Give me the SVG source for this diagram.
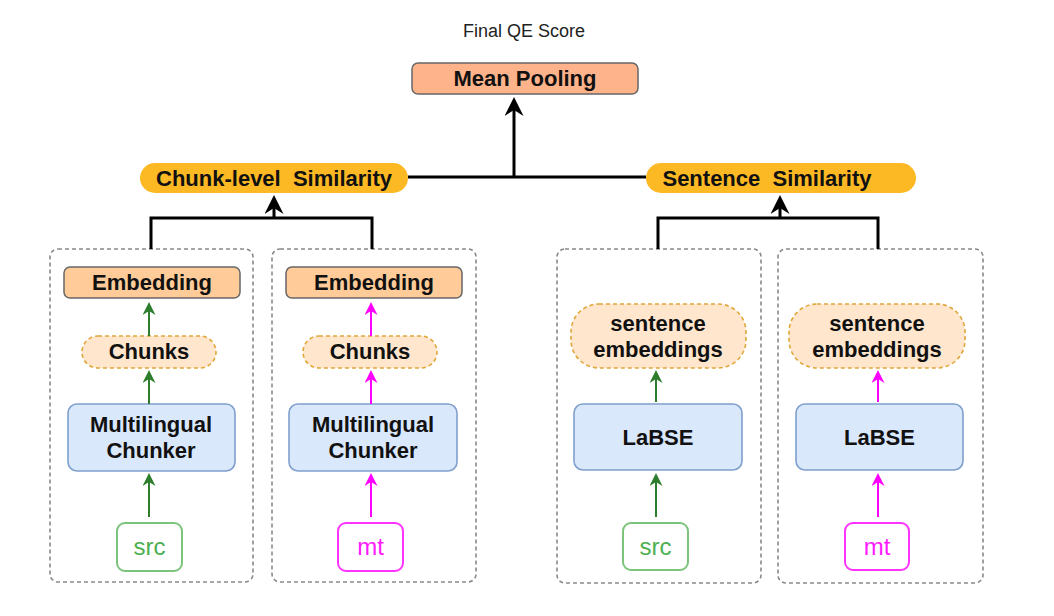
<svg xmlns="http://www.w3.org/2000/svg" width="1054" height="616" viewBox="0 0 1054 616">
<style>
  text { font-family: "Liberation Sans", Arial, sans-serif; text-anchor: middle; }
  .b { font-weight: bold; font-size: 22px; fill: #111; }
  .frame { fill: none; stroke: #8a8a8a; stroke-width: 1.6; stroke-dasharray: 4 3; }
  .emb { fill: #FFCC99; stroke: #666; stroke-width: 1.5; }
  .pill { fill: #FDB924; }
  .dpill { fill: #FFE6CC; stroke: #E0A73A; stroke-width: 1.6; stroke-dasharray: 4 3; }
  .blue { fill: #DAE8FC; stroke: #7F9FCC; stroke-width: 1.6; }
  .src { fill: #fff; stroke: #7CC47C; stroke-width: 2; }
  .mt { fill: #fff; stroke: #FF33FF; stroke-width: 2; }
  .srct { font-size: 24px; fill: #4CAF50; }
  .mtt { font-size: 24px; fill: #FF1AFF; }
  .k { fill: none; stroke: #000; stroke-width: 3; }
  .g { fill: none; stroke: #2D7D2D; stroke-width: 2; }
  .m { fill: none; stroke: #FF00FF; stroke-width: 2; }
</style>
<defs>
  <marker id="ak" markerUnits="userSpaceOnUse" markerWidth="20" markerHeight="20" refX="6" refY="9.5" orient="auto">
    <path d="M0,0 L19,9.5 L0,19 L6,9.5 Z" fill="#000"/>
  </marker>
  <marker id="ag" markerUnits="userSpaceOnUse" markerWidth="14" markerHeight="14" refX="4" refY="6.5" orient="auto">
    <path d="M0,0 L13,6.5 L0,13 L4,6.5 Z" fill="#2D7D2D"/>
  </marker>
  <marker id="am" markerUnits="userSpaceOnUse" markerWidth="14" markerHeight="14" refX="4" refY="6.5" orient="auto">
    <path d="M0,0 L13,6.5 L0,13 L4,6.5 Z" fill="#FF00FF"/>
  </marker>
</defs>
<rect width="1054" height="616" fill="#fff"/>

<g id="title">
  <text x="524" y="37" style="font-size:18px; fill:#222;">Final QE Score</text>
</g>

<g id="mean-pooling">
  <rect x="412" y="63" width="226" height="31" rx="6" fill="#FFB38A" stroke="#666" stroke-width="1.5"/>
  <text class="b" x="525" y="86">Mean Pooling</text>
</g>

<g id="chunk-similarity">
  <rect class="pill" x="140" y="163" width="268" height="30" rx="15"/>
  <text class="b" x="274" y="186" xml:space="preserve">Chunk-level  Similarity</text>
</g>

<g id="sentence-similarity">
  <rect class="pill" x="646" y="163" width="270" height="30" rx="15"/>
  <text class="b" x="767" y="186" xml:space="preserve">Sentence  Similarity</text>
</g>

<!-- frames -->
<g id="frame-chunk-src"><rect class="frame" x="50" y="249" width="203" height="333" rx="8"/></g>
<g id="frame-chunk-mt"><rect class="frame" x="272" y="249" width="204" height="333" rx="8"/></g>
<g id="frame-sent-src"><rect class="frame" x="557" y="249" width="204" height="334" rx="8"/></g>
<g id="frame-sent-mt"><rect class="frame" x="778" y="249" width="205" height="334" rx="8"/></g>

<!-- column 1 -->
<g id="embedding-src">
  <rect class="emb" x="64" y="267" width="176" height="31" rx="6"/>
  <text class="b" x="152" y="290">Embedding</text>
</g>
<g id="chunks-src">
  <rect class="dpill" x="82" y="336" width="134" height="32" rx="16"/>
  <text class="b" x="149" y="359">Chunks</text>
</g>
<g id="chunker-src">
  <rect class="blue" x="68" y="404" width="167" height="67" rx="9"/>
  <text class="b" x="151" y="432">Multilingual</text>
  <text class="b" x="151" y="458">Chunker</text>
</g>
<g id="src-1">
  <rect class="src" x="117" y="523" width="65" height="48" rx="8"/>
  <text class="srct" x="149.5" y="555">src</text>
</g>

<!-- column 2 -->
<g id="embedding-mt">
  <rect class="emb" x="286" y="267" width="176" height="31" rx="6"/>
  <text class="b" x="374" y="290">Embedding</text>
</g>
<g id="chunks-mt">
  <rect class="dpill" x="303" y="336" width="134" height="32" rx="16"/>
  <text class="b" x="370" y="359">Chunks</text>
</g>
<g id="chunker-mt">
  <rect class="blue" x="289" y="404" width="168" height="67" rx="9"/>
  <text class="b" x="373" y="432">Multilingual</text>
  <text class="b" x="373" y="458">Chunker</text>
</g>
<g id="mt-1">
  <rect class="mt" x="338" y="523" width="65" height="48" rx="8"/>
  <text class="mtt" x="370.5" y="555">mt</text>
</g>

<!-- column 3 -->
<g id="sentemb-src">
  <rect class="dpill" x="571" y="304" width="175" height="64" rx="28"/>
  <text class="b" x="658" y="331">sentence</text>
  <text class="b" x="658" y="357">embeddings</text>
</g>
<g id="labse-src">
  <rect class="blue" x="574" y="404" width="168" height="66" rx="9"/>
  <text class="b" x="658" y="445">LaBSE</text>
</g>
<g id="src-2">
  <rect class="src" x="623" y="523" width="65" height="47" rx="8"/>
  <text class="srct" x="655.5" y="555">src</text>
</g>

<!-- column 4 -->
<g id="sentemb-mt">
  <rect class="dpill" x="789" y="304" width="176" height="64" rx="28"/>
  <text class="b" x="877" y="331">sentence</text>
  <text class="b" x="877" y="357">embeddings</text>
</g>
<g id="labse-mt">
  <rect class="blue" x="796" y="404" width="167" height="66" rx="9"/>
  <text class="b" x="879.5" y="445">LaBSE</text>
</g>
<g id="mt-2">
  <rect class="mt" x="845" y="523" width="64" height="47" rx="8"/>
  <text class="mtt" x="877" y="555">mt</text>
</g>

<g id="connectors">
  <!-- top -->
  <path class="k" d="M408,177 L646,177"/>
  <path class="k" d="M514,177 L514,110" marker-end="url(#ak)"/>
  <!-- chunk bracket -->
  <path class="k" d="M151,249 L151,218 L372,218 L372,249"/>
  <path class="k" d="M274,218 L274,208" marker-end="url(#ak)"/>
  <!-- sentence bracket -->
  <path class="k" d="M658,249 L658,218 L878,218 L878,249"/>
  <path class="k" d="M780,218 L780,208" marker-end="url(#ak)"/>
  <!-- col1 green -->
  <path class="g" d="M149,336 L149,311" marker-end="url(#ag)"/>
  <path class="g" d="M149,404 L149,379" marker-end="url(#ag)"/>
  <path class="g" d="M149,517 L149,482" marker-end="url(#ag)"/>
  <!-- col2 magenta -->
  <path class="m" d="M371,336 L371,311" marker-end="url(#am)"/>
  <path class="m" d="M371,404 L371,379" marker-end="url(#am)"/>
  <path class="m" d="M371,517 L371,482" marker-end="url(#am)"/>
  <!-- col3 green -->
  <path class="g" d="M656,402 L656,379" marker-end="url(#ag)"/>
  <path class="g" d="M656,517 L656,482" marker-end="url(#ag)"/>
  <!-- col4 magenta -->
  <path class="m" d="M878,402 L878,379" marker-end="url(#am)"/>
  <path class="m" d="M878,517 L878,482" marker-end="url(#am)"/>
</g>
</svg>
